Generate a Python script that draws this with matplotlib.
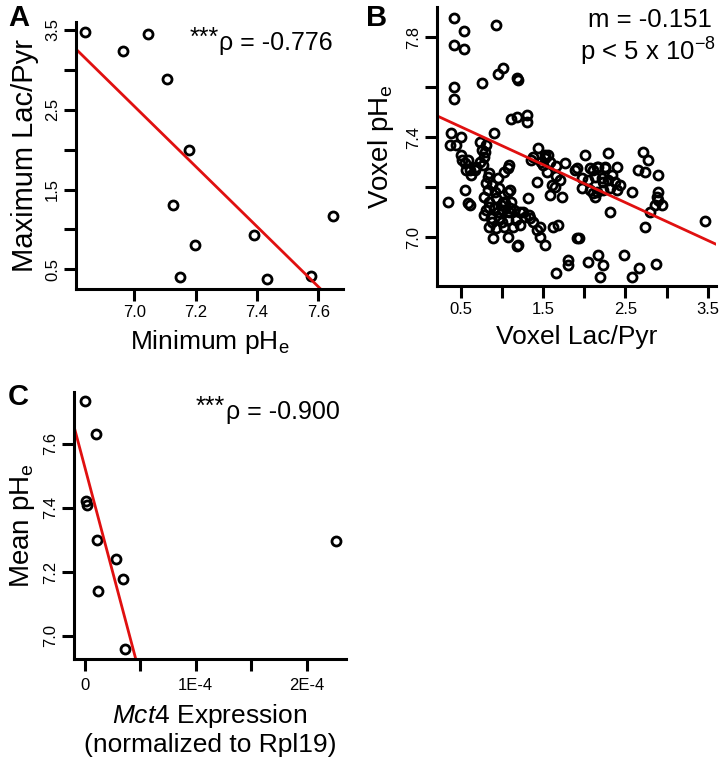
import numpy as np
import matplotlib
matplotlib.use("Agg")
import matplotlib.pyplot as plt

plt.rcParams['font.family'] = ['Liberation Sans', 'DejaVu Sans']
plt.rcParams['mathtext.fontset'] = 'custom'
plt.rcParams['mathtext.rm'] = 'Liberation Sans'
plt.rcParams['mathtext.it'] = 'Liberation Sans:italic'

# panel A: minimum pHe vs maximum Lac/Pyr
a_ph = [6.839, 6.964, 7.044, 7.106, 7.177, 7.125, 7.197, 7.148, 7.391, 7.432, 7.575, 7.646]
a_lp = [3.47, 3.24, 3.45, 2.886, 2.0, 1.31, 0.806, 0.401, 0.931, 0.376, 0.421, 1.173]
a_fit_x = [6.81, 7.608]
a_fit_y = [3.26, 0.25]

# panel B: voxel Lac/Pyr vs voxel pHe
b_lp = [0.415, 0.544, 0.423, 0.544, 0.932, 0.42, 0.415, 0.755, 0.96, 1.02, 1.19, 1.20, 1.11, 1.18, 1.31, 1.31,
        0.387, 0.508, 0.91, 0.367, 0.448, 0.73, 0.81, 0.508, 0.59, 0.549, 0.61, 0.69, 0.73, 0.79, 0.77,
        0.85, 1.03, 1.07, 0.95, 0.81, 0.97, 1.07, 0.549, 0.347, 0.59, 0.62, 0.79, 0.85, 0.93, 1.01, 1.11,
        0.81, 0.91, 1.01, 1.09, 0.79, 0.87, 0.97, 1.07, 0.85, 0.93, 1.03, 0.89, 1.07,
        0.83, 0.88, 0.92, 0.84, 0.95, 0.99, 0.88, 1.00, 0.83, 0.76, 0.80, 0.63, 0.68, 0.57, 0.52, 1.19,
        1.445, 1.385, 1.527, 1.587, 1.506, 1.547, 1.77, 1.89, 1.426, 1.608, 1.708, 1.729, 1.587, 1.324,
        1.09, 1.102, 1.04, 1.10, 1.224, 1.345, 1.385, 1.466, 1.426, 1.224, 1.142, 1.627, 1.688, 1.466, 1.203, 1.527, 1.91,
        1.28, 1.33, 1.17, 1.15, 1.26, 1.36, 1.56, 1.53, 1.66, 1.66, 1.65, 1.48,
        2.011, 2.294, 2.718, 2.779, 1.91, 2.072, 2.153, 2.254, 2.396, 2.658, 2.739, 2.90, 1.971, 2.051, 2.133, 2.214, 2.294, 2.375, 2.436,
        1.971, 2.072, 2.153, 2.233, 2.315, 2.133, 2.577, 2.90, 2.881, 2.90, 2.94, 2.86, 2.315,
        2.17, 2.25, 2.335, 2.40, 2.23, 2.11, 2.11,
        1.66, 1.80, 1.80, 1.94, 2.05, 2.17, 2.23, 2.19, 2.48, 2.66, 2.58, 2.87, 2.74, 2.80, 3.47]
b_ph = [7.876, 7.823, 7.767, 7.753, 7.847, 7.60, 7.553, 7.616, 7.653, 7.676, 7.636, 7.628, 7.472, 7.48, 7.49, 7.46,
        7.416, 7.402, 7.416, 7.369, 7.369, 7.382, 7.369, 7.329, 7.309, 7.296, 7.269, 7.282, 7.302, 7.322, 7.289,
        7.256, 7.262, 7.276, 7.236, 7.216, 7.196, 7.182, 7.189, 7.142, 7.136, 7.13, 7.162, 7.142, 7.156, 7.142, 7.142,
        7.109, 7.116, 7.109, 7.102, 7.089, 7.076, 7.076, 7.069, 7.042, 7.036, 7.042, 6.996, 7.002,
        7.19, 7.21, 7.18, 7.12, 7.10, 7.13, 7.06, 7.06, 7.24, 7.35, 7.34, 7.25, 7.27, 7.27, 7.31, 6.963,
        7.356, 7.322, 7.329, 7.302, 7.289, 7.262, 7.296, 7.269, 7.222, 7.209, 7.229, 7.162, 7.169, 7.156,
        7.29, 7.189, 7.136, 7.116, 7.102, 7.076, 7.062, 7.042, 7.029, 7.049, 7.042, 7.042, 7.049, 7.002, 6.969, 6.969, 6.996,
        7.08, 7.09, 7.07, 7.11, 7.10, 7.31, 7.33, 7.315, 7.283, 7.243, 7.20, 7.30,
        7.329, 7.336, 7.342, 7.309, 7.276, 7.276, 7.282, 7.282, 7.282, 7.269, 7.262, 7.249, 7.236, 7.229, 7.242, 7.236, 7.229, 7.222, 7.209,
        7.196, 7.189, 7.182, 7.189, 7.196, 7.162, 7.182, 7.182, 7.162, 7.149, 7.129, 7.129, 7.102,
        7.282, 7.276, 7.249, 7.189, 7.222, 7.176, 7.269,
        6.856, 6.91, 6.89, 6.998, 6.902, 6.929, 6.889, 6.842, 6.929, 6.876, 6.842, 6.893, 7.04, 7.102, 7.066]
b_fit_x = [0.214, 3.60]
b_fit_y = [7.485, 6.972]

# panel C: Mct4 expression vs mean pHe
c_mct4 = [0.0, 9.9e-6, 1.2e-6, 2.4e-6, 1.14e-5, 2.83e-5, 3.43e-5, 1.17e-5, 3.64e-5, 2.262e-4]
c_ph = [7.733, 7.632, 7.421, 7.408, 7.301, 7.241, 7.179, 7.140, 6.959, 7.297]
c_fit_x = [-9.7e-6, 4.6e-5]
c_fit_y = [7.655, 6.928]

W, H = 728, 760
fig = plt.figure(figsize=(W / 100, H / 100), dpi=100)


def px_axes(x0, y0, x1, y1):
    return fig.add_axes([x0 / W, 1 - y1 / H, (x1 - x0) / W, (y1 - y0) / H])


def style(ax):
    for s in ['top', 'right']:
        ax.spines[s].set_visible(False)
    for s in ['left', 'bottom']:
        ax.spines[s].set_linewidth(2.2)
    ax.tick_params(direction='out', length=8.5, width=2.2, labelsize=12, pad=3)
    ax.tick_params(axis='y', labelrotation=90)
    for lab in ax.get_yticklabels():
        lab.set_va('center')


def dots(ax, x, y):
    ax.plot(x, y, 'o', mfc='none', mec='black', mew=2.0, ms=6.5, clip_on=False)


red = '#e01010'

# A
axA = px_axes(76, 22, 343, 289)
dots(axA, a_ph, a_lp)
axA.plot(a_fit_x, a_fit_y, color=red, lw=2.0)
axA.set_xlim(6.81, 7.68)
axA.set_ylim(0.253, 3.6)
axA.set_xticks([7.0, 7.2, 7.4, 7.6], ['7.0', '7.2', '7.4', '7.6'])
axA.set_yticks([0.5, 1.0, 1.5, 2.0, 2.5, 3.0, 3.5], ['0.5', '', '1.5', '', '2.5', '', '3.5'])
style(axA)
axA.set_xlabel('Minimum pH$_{\\mathrm{e}}$', fontsize=19, labelpad=6)
axA.set_ylabel('Maximum Lac/Pyr', fontsize=21, labelpad=4)

# B
axB = px_axes(437, 7, 716, 286)
dots(axB, b_lp, b_ph)
axB.plot(b_fit_x, b_fit_y, color=red, lw=2.0)
axB.set_xlim(0.214, 3.60)
axB.set_ylim(6.805, 7.92)
axB.set_xticks([0.5, 1.0, 1.5, 2.0, 2.5, 3.0, 3.5], ['0.5', '', '1.5', '', '2.5', '', '3.5'])
axB.set_yticks([7.0, 7.2, 7.4, 7.6, 7.8], ['7.0', '', '7.4', '', '7.8'])
style(axB)
axB.set_xlabel('Voxel Lac/Pyr', fontsize=19, labelpad=6)
axB.set_ylabel('Voxel pH$_{\\mathrm{e}}$', fontsize=20, labelpad=7)

# C
axC = px_axes(74, 392, 346, 659)
dots(axC, c_mct4, c_ph)
axC.plot(c_fit_x, c_fit_y, color=red, lw=2.0)
axC.set_xlim(-9.7e-6, 2.356e-4)
axC.set_ylim(6.928, 7.7625)
axC.set_xticks([0, 5e-5, 1e-4, 1.5e-4, 2e-4], ['0', '', '1E-4', '', '2E-4'])
axC.set_yticks([7.0, 7.2, 7.4, 7.6], ['7.0', '7.2', '7.4', '7.6'])
style(axC)
axC.tick_params(axis='x', pad=5)
axC.set_xlabel('$\\it{Mct4}$ Expression\n(normalized to Rpl19)', fontsize=19, labelpad=7, linespacing=1.15)
axC.set_ylabel('Mean pH$_{\\mathrm{e}}$', fontsize=20, labelpad=4)

# annotations
fig.text(712 / W, 1 - 20 / H, 'm = -0.151', fontsize=18.5, ha='right', va='center')
fig.text(716 / W, 1 - 52 / H, 'p < 5 x 10$^{\\mathrm{-8}}$', fontsize=18.5, ha='right', va='center')

renderer = fig.canvas.get_renderer()
for txt, xr, yc in [('\u03c1 = -0.776', 333, 43), ('\u03c1 = -0.900', 340, 412)]:
    t = fig.text(xr / W, 1 - yc / H, txt, fontsize=18, ha='right', va='center')
    bb = t.get_window_extent(renderer)
    fig.text((bb.x0 - 1) / W, 1 - (yc - 5) / H, '***', fontsize=18, ha='right', va='center')

for lab, x, y in [('A', 8, 18), ('B', 366, 18), ('C', 8, 397)]:
    fig.text(x / W, 1 - y / H, lab, fontsize=21, fontweight='bold', ha='left', va='center')

fig.savefig('out.png', dpi=100)
